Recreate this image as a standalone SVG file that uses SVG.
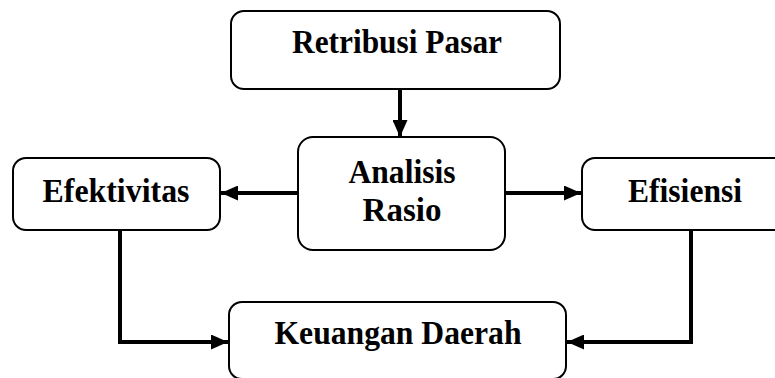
<svg xmlns="http://www.w3.org/2000/svg" width="775" height="378" viewBox="0 0 775 378">
<style>
.box{fill:#fff;stroke:#000;stroke-width:2}
.lbl{font-family:"Liberation Serif","Times New Roman",serif;font-weight:bold;font-size:33px;text-anchor:middle;fill:#000}
.con{fill:none;stroke:#000;stroke-width:4}
</style>
<defs>
<marker id="ah" markerUnits="userSpaceOnUse" markerWidth="17" markerHeight="15" refX="17" refY="7.5" orient="auto">
<path d="M0,0 L17,7.5 L0,15 Z" fill="#000"/>
</marker>
</defs>
<rect width="775" height="378" fill="#fff"/>
<g id="connectors">
<line class="con" x1="400" y1="89" x2="400" y2="137" marker-end="url(#ah)"/>
<line class="con" x1="298" y1="193" x2="221" y2="193" marker-end="url(#ah)"/>
<line class="con" x1="505" y1="193" x2="581" y2="193" marker-end="url(#ah)"/>
<polyline class="con" points="120,230 120,342 228,342" marker-end="url(#ah)"/>
<polyline class="con" points="691,230 691,342 567,342" marker-end="url(#ah)"/>
</g>
<g id="retribusi">
<rect class="box" x="231" y="11" width="329" height="78" rx="13"/>
<text class="lbl" x="397" y="53" textLength="210" lengthAdjust="spacingAndGlyphs">Retribusi Pasar</text>
</g>
<g id="analisis">
<rect class="box" x="298" y="137" width="207" height="113" rx="15"/>
<text class="lbl" x="402" y="183" textLength="107" lengthAdjust="spacingAndGlyphs">Analisis</text>
<text class="lbl" x="402" y="221">Rasio</text>
</g>
<g id="efektivitas">
<rect class="box" x="13" y="158" width="207" height="72" rx="13"/>
<text class="lbl" x="116" y="202" textLength="147" lengthAdjust="spacingAndGlyphs">Efektivitas</text>
</g>
<g id="efisiensi">
<rect class="box" x="582" y="158" width="208" height="72" rx="13"/>
<text class="lbl" x="685" y="202" textLength="114" lengthAdjust="spacingAndGlyphs">Efisiensi</text>
</g>
<g id="keuangan">
<rect class="box" x="229" y="302" width="337" height="77" rx="13"/>
<text class="lbl" x="398" y="344" textLength="247" lengthAdjust="spacingAndGlyphs">Keuangan Daerah</text>
</g>
</svg>
